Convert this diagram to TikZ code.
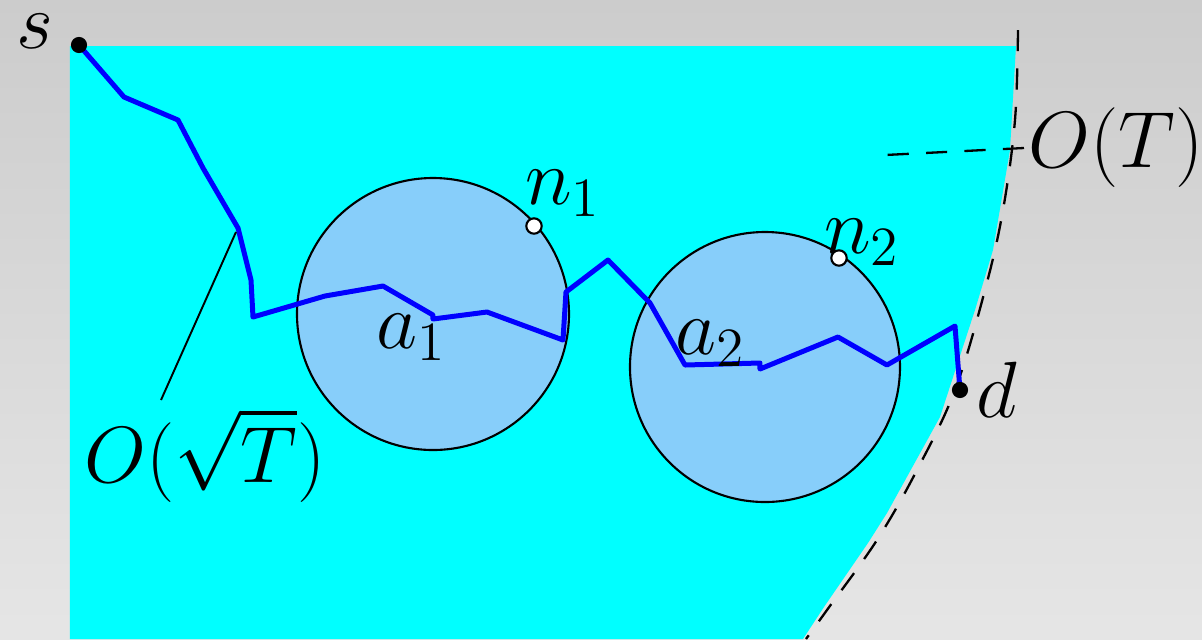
\documentclass[tikz,border=0pt]{standalone}
\usepackage{amsmath}
\usepackage{xcolor}
\usepackage{tikz}
\usetikzlibrary{arrows.meta, positioning, calc}

\definecolor{ballblue}{RGB}{135,206,250}
\definecolor{walkblue}{RGB}{0,0,255}
\definecolor{regioncyan}{RGB}{0,255,255}

\begin{document}
\begin{tikzpicture}[
  x=0.26pt, y=-0.26pt,
  walk/.style={line width=1.3pt, walkblue, line join=round},
  ball/.style={draw, line width=0.55pt, fill=ballblue},
  enddot/.style={circle, fill=black, inner sep=0pt, minimum size=4.2pt},
  neighdot/.style={circle, draw, line width=0.55pt, fill=white, inner sep=0pt, minimum size=4pt},
  lab/.style={font=\huge, inner sep=1pt},
  bound/.style={line width=0.6pt, dash pattern=on 5.5pt off 4.5pt},
]

% Background
\shade[top color=black!20, bottom color=black!10] (0,0) rectangle (1202,639);
\useasboundingbox (0,0) rectangle (1202,639);

% Reachable region
\fill[regioncyan] (70,46) -- (1016,46) -- (1010,150) -- (993,250) -- (975,310)
  -- (940,417) -- (887,513) -- (868,543) -- (824,607) -- (803,639) -- (70,639) -- cycle;

% Outer boundary
\draw[bound] plot[smooth, tension=0.6] coordinates {(1018,30) (1015,120) (1003,210)
  (985,290) (955,390) (917,470) (877,540) (827,610) (806,639)};

% Balls
\draw[ball] (433,314) circle[radius=136];
\draw[ball] (765,367) circle[radius=135];

% Random walk
\draw[walk] (79,45) -- (124,97) -- (178,120) -- (203,168) -- (238,228) -- (251,280)
  -- (253,317) -- (325,296) -- (383,286) -- (433,315) -- (433,319) -- (487,312)
  -- (563,340) -- (566,292) -- (608,260) -- (650,303) -- (685,365) -- (760,363)
  -- (760,369) -- (838,337) -- (887,365) -- (955,326) -- (960,390);

% Points and labels
\node[enddot] (s) at (79,45) {};
\node[lab, inner sep=0pt] (slab) at (35,31) {$s$};
\node[enddot] (d) at (960,390) {};
\node[lab] (dlab) at (997,390) {$d$};
\node[neighdot] (n1) at (534,226) {};
\node[lab] (n1lab) at (563,193) {$n_1$};
\node[neighdot] (n2) at (839,258) {};
\node[lab] (n2lab) at (862,242) {$n_2$};
\node[lab] (a1) at (412,337) {$a_1$};
\node[lab] (a2) at (711,343) {$a_2$};

% Distance annotations
\node[lab] (sqrtT) at (205,455) {$O(\sqrt{T})$};
\coordinate (sqrtfoot) at (161,400);
\coordinate (sqrttip) at (236,232);
\draw[line width=0.5pt] (sqrtfoot) -- (sqrttip);
\node[lab, anchor=west] (OT) at (1024,148) {$O(T)$};
\coordinate (OTtip) at (885,155);
\draw[bound] (OT.west) -- (OTtip);

\end{tikzpicture}
\end{document}
